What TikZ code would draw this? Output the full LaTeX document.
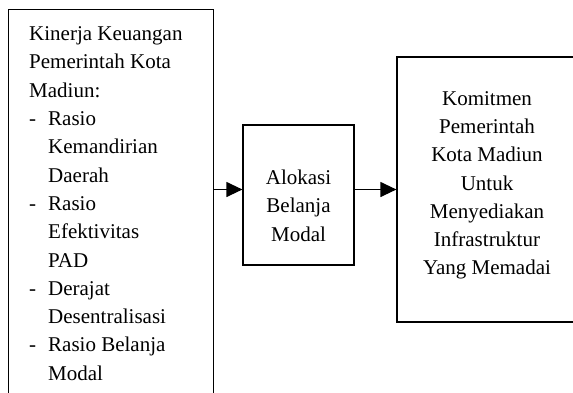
\documentclass[tikz,border=0pt]{standalone}
\usepackage{fontspec}
\setmainfont{Liberation Serif}
\usetikzlibrary{arrows.meta}
\newcommand{\butir}{\makebox[19pt][l]{-}}% tanda butir
\newcommand{\lanjut}{\hspace*{19pt}}% baris lanjutan butir
\tikzset{
  kotak/.style = {rectangle, draw=black, line width=1.2pt, inner sep=0pt},
  kotak_kiri/.style = {kotak, minimum width=205pt, minimum height=400pt},% variabel X
  kotak_tengah/.style = {kotak, minimum width=111pt, minimum height=140pt},% variabel Z
  kotak_kanan/.style = {kotak, minimum width=180pt, minimum height=265pt},% variabel Y
  teks/.style = {inner sep=0pt, font=\fontsize{21}{28.3}\selectfont},
  panah/.style = {line width=1.2pt, -{Triangle[length=16pt,width=15pt]}}
}
\begin{document}
\begin{tikzpicture}[x=1pt, y=1pt]
	\useasboundingbox (0,0) rectangle (573,-392);
	\node [kotak_kiri, anchor=north west] (kinerja) at (8,-9) {};
	\node [kotak_tengah] (alokasi) at (298.5,-195) {};
	\node [kotak_kanan] (komitmen) at (487,-189.5) {};
	\node [teks, anchor=north west, align=left] (kinerjaTeks) at (29,-26.5)
		{Kinerja Keuangan\\Pemerintah Kota\\Madiun:\\
		 \butir Rasio\\\lanjut Kemandirian\\\lanjut Daerah\\
		 \butir Rasio\\\lanjut Efektivitas\\\lanjut PAD\\
		 \butir Derajat\\\lanjut Desentralisasi\\
		 \butir Rasio Belanja\\\lanjut Modal};
	\node [teks, anchor=north, align=center] (alokasiTeks) at (298.5,-169.7)
		{Alokasi\\Belanja\\Modal};
	\node [teks, anchor=north, align=center] (komitmenTeks) at (487,-91)
		{Komitmen\\Pemerintah\\Kota Madiun\\Untuk\\Menyediakan\\Infrastruktur\\Yang Memadai};
	\draw [panah] (kinerja.east |- komitmen.west) -- (alokasi.west |- komitmen.west);
	\draw [panah] (alokasi.east |- komitmen.west) -- (komitmen.west);
\end{tikzpicture}
\end{document}
